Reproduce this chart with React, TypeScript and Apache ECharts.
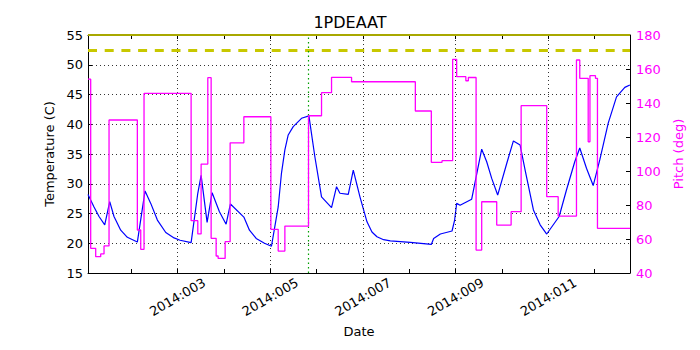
import React, { useEffect, useRef } from "react";
import * as echarts from "echarts";

const titleText = "1PDEAAT";
const xAxisName = "Date";
const leftAxisName = "Temperature (C)";
const rightAxisName = "Pitch (deg)";

const xMin = 1.067;
const xMax = 12.762;
const gridDays = [3, 5, 7, 9, 11];
const markerDay = 5.835;
const limitSolid = 55;
const limitDashed = 52.5;

const tempDays = [1.067, 1.197, 1.305, 1.428, 1.536, 1.628, 1.773, 1.916, 2.132, 2.298, 2.421, 2.564, 2.745, 2.924, 3.054, 3.292, 3.436, 3.508, 3.637, 3.745, 3.903, 4.047, 4.14, 4.43, 4.551, 4.696, 4.875, 5.026, 5.171, 5.242, 5.315, 5.387, 5.495, 5.674, 5.834, 5.963, 6.106, 6.322, 6.43, 6.503, 6.683, 6.791, 6.935, 7.087, 7.194, 7.302, 7.445, 7.59, 8.022, 8.475, 8.525, 8.67, 8.922, 8.978, 9.022, 9.095, 9.346, 9.562, 9.67, 9.778, 9.907, 10.102, 10.246, 10.391, 10.499, 10.678, 10.823, 10.965, 11.233, 11.391, 11.57, 11.678, 11.823, 11.968, 12.11, 12.292, 12.471, 12.65, 12.758];
const tempValues = [28.2, 26.1, 24.5, 23.1, 27.0, 24.5, 22.2, 21.0, 20.2, 28.8, 26.7, 23.9, 21.8, 20.9, 20.5, 20.1, 28.4, 31.4, 23.5, 28.5, 25.3, 23.2, 26.6, 24.4, 22.2, 20.8, 20.0, 19.5, 26.1, 31.8, 35.7, 38.2, 39.6, 41.0, 41.4, 34.5, 27.8, 26.0, 29.5, 28.4, 28.2, 32.3, 27.8, 23.6, 21.9, 21.1, 20.6, 20.4, 20.15, 19.8, 20.8, 21.55, 22.06, 23.9, 26.7, 26.4, 27.4, 35.8, 33.7, 30.9, 28.1, 33.4, 37.2, 36.5, 32.3, 25.6, 23.1, 21.55, 24.5, 28.95, 33.7, 36.0, 32.6, 29.7, 34.0, 40.2, 44.6, 46.2, 46.6];

const pitchDays = [1.067, 1.125, 1.233, 1.341, 1.413, 1.521, 2.132, 2.205, 2.276, 3.292, 3.436, 3.508, 3.652, 3.724, 3.832, 3.875, 4.026, 4.134, 4.43, 5.013, 5.171, 5.315, 5.825, 6.106, 6.322, 6.754, 8.13, 8.475, 8.706, 8.935, 9.022, 9.22, 9.274, 9.441, 9.562, 9.886, 10.197, 10.413, 10.965, 11.212, 11.607, 11.678, 11.86, 11.898, 12.017, 12.06, 12.762];
const pitchValues = [154, 54.5, 49.6, 51.2, 55.9, 130, 65.3, 53.9, 145.7, 70.8, 63, 104.1, 154.9, 60.4, 50, 48.6, 58.4, 116.6, 131.9, 65.7, 52.9, 67.6, 132.5, 146.1, 155.1, 152.5, 135.3, 105.1, 106.1, 165.7, 155.5, 153.1, 155.0, 53.5, 81.9, 68.2, 76.1, 138.4, 84.9, 73.5, 165.3, 154.5, 117.2, 156.1, 154.5, 66.3, 66.3];

const FONT = "DejaVu Sans";

function dayLabel(v: number): string {
  const r = Math.round(v);
  if (Math.abs(v - r) > 1e-6 || r % 2 === 0) return "";
  return "2014:" + String(r).padStart(3, "0");
}

export default function App() {
  const ref = useRef<HTMLDivElement>(null);
  useEffect(() => {
    if (!ref.current) return;
    const chart = echarts.init(ref.current, undefined, { renderer: "svg" });
    const tempData = tempDays.map((d, i) => [d, tempValues[i]]);
    const pitchData = pitchDays.map((d, i) => [d, pitchValues[i]]);
    const xCommon = {
      type: "value" as const,
      min: xMin,
      max: xMax,
      splitNumber: 12,
      axisLine: { show: true, lineStyle: { color: "#000", width: 1 } },
      axisTick: { show: true, inside: true, length: 4, lineStyle: { color: "#000" } },
      splitLine: { show: false },
    };
    chart.setOption({
      animation: false,
      backgroundColor: "#fff",
      title: {
        text: titleText,
        left: "center",
        top: 9,
        textStyle: { fontFamily: FONT, fontSize: 16, fontWeight: "normal", color: "#000" },
      },
      grid: { left: 88, right: 70, top: 35, bottom: 77, show: false },
      xAxis: [
        {
          ...xCommon,
          position: "bottom",
          name: xAxisName,
          nameLocation: "middle",
          nameGap: 46,
          nameTextStyle: { fontFamily: FONT, fontSize: 13, color: "#000" },
          axisLabel: {
            show: true,
            formatter: dayLabel,
            rotate: 30,
            align: "center",
            verticalAlign: "middle",
            margin: 24,
            fontFamily: FONT,
            fontSize: 13,
            color: "#000",
            showMinLabel: false,
            showMaxLabel: false,
          },
        },
        {
          ...xCommon,
          position: "top",
          axisLabel: { show: false },
        },
      ],
      yAxis: [
        {
          type: "value",
          min: 15,
          max: 55,
          interval: 5,
          position: "left",
          name: leftAxisName,
          nameLocation: "middle",
          nameGap: 30,
          nameTextStyle: { fontFamily: FONT, fontSize: 13, color: "#000" },
          axisLine: { show: true, lineStyle: { color: "#000" } },
          axisTick: { show: true, inside: true, length: 4, lineStyle: { color: "#000" } },
          axisLabel: { fontFamily: FONT, fontSize: 13, color: "#000", margin: 5 },
          splitLine: { show: true, lineStyle: { color: "#000", width: 0.8, type: [1, 3] } },
        },
        {
          type: "value",
          min: 40,
          max: 180,
          interval: 20,
          position: "right",
          name: rightAxisName,
          nameLocation: "middle",
          nameGap: 32,
          nameTextStyle: { fontFamily: FONT, fontSize: 13, color: "#ff00ff" },
          axisLine: { show: true, lineStyle: { color: "#000" } },
          axisTick: { show: true, inside: true, length: 4, lineStyle: { color: "#000" } },
          axisLabel: { fontFamily: FONT, fontSize: 13, color: "#ff00ff", margin: 6 },
          splitLine: { show: false },
        },
      ],
      series: [
        {
          name: "grid",
          type: "line",
          data: [],
          z: 1,
          silent: true,
          markLine: {
            silent: true,
            symbol: "none",
            label: { show: false },
            lineStyle: { color: "#000", width: 0.8, type: [1, 3] },
            data: gridDays.map((d) => ({ xAxis: d })),
          },
        },
        {
          name: "limits",
          type: "line",
          data: [],
          z: 3,
          silent: true,
          markLine: {
            silent: true,
            symbol: "none",
            label: { show: false },
            data: [
              { yAxis: limitSolid, lineStyle: { color: "#a8a800", width: 2, type: "solid" } },
              { yAxis: limitDashed, lineStyle: { color: "#c8c800", width: 3, type: [9, 7.7] } },
              { xAxis: markerDay, lineStyle: { color: "#00a000", width: 1.2, type: [1.5, 3] } },
            ],
          },
        },
        {
          name: "Temperature",
          type: "line",
          xAxisIndex: 0,
          yAxisIndex: 0,
          data: tempData,
          showSymbol: false,
          z: 4,
          lineStyle: { color: "#0000ff", width: 1.2 },
          itemStyle: { color: "#0000ff" },
        },
        {
          name: "Pitch",
          type: "line",
          xAxisIndex: 0,
          yAxisIndex: 1,
          step: "end",
          data: pitchData,
          showSymbol: false,
          z: 5,
          lineStyle: { color: "#ff00ff", width: 1.3 },
          itemStyle: { color: "#ff00ff" },
        },
      ],
    });
    return () => chart.dispose();
  }, []);
  return (
    <div
      ref={ref}
      style={{ position: "absolute", left: 0, top: 0, width: 700, height: 350 }}
    />
  );
}
